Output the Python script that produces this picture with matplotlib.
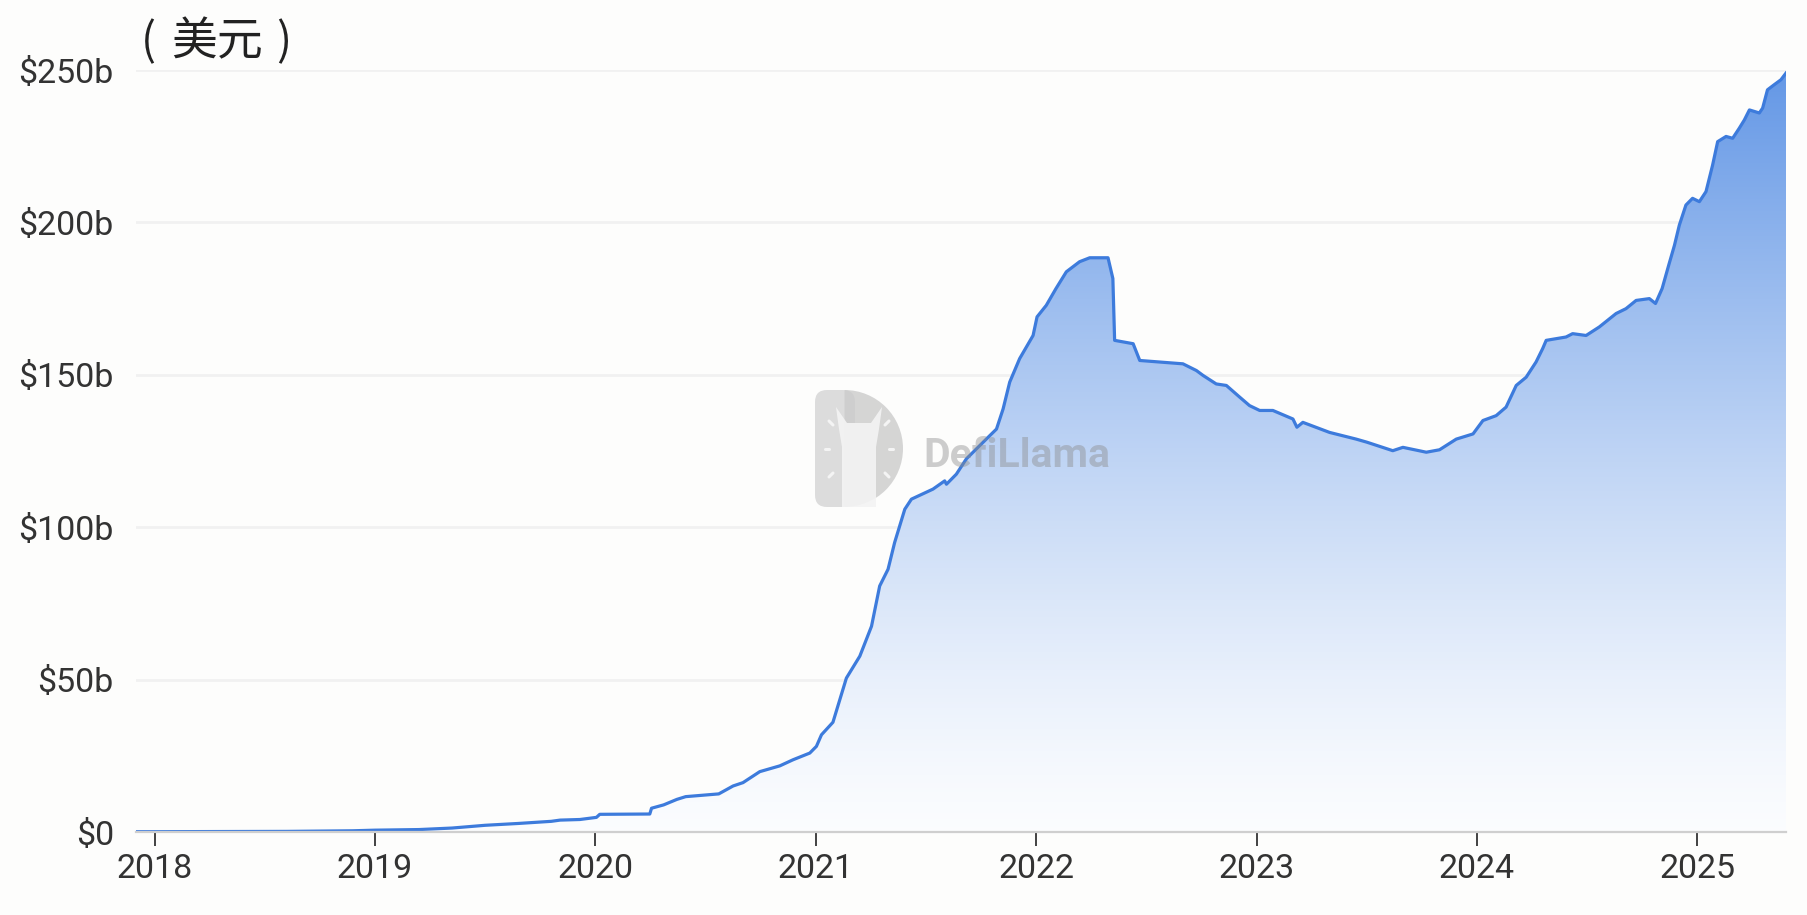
import numpy as np
import matplotlib
matplotlib.use("Agg")
import matplotlib.pyplot as plt
import matplotlib.font_manager as fm
from matplotlib.patches import Wedge, FancyBboxPatch, Polygon

# ---------------- data (decimal year, TVL in $b) ----------------
years = [2017.916, 2018.0, 2018.3, 2018.6, 2018.9, 2019.0, 2019.2, 2019.35, 2019.5,
         2019.65, 2019.8, 2019.84, 2019.93, 2020.005, 2020.02, 2020.247, 2020.255,
         2020.31, 2020.37, 2020.41, 2020.56, 2020.625, 2020.67, 2020.746, 2020.837,
         2020.897, 2020.973, 2021.003, 2021.026, 2021.078, 2021.139, 2021.2, 2021.253,
         2021.29, 2021.328, 2021.358, 2021.404, 2021.434, 2021.532, 2021.585, 2021.593,
         2021.638, 2021.683, 2021.789, 2021.82, 2021.85, 2021.88, 2021.925, 2021.986,
         2022.004, 2022.046, 2022.09, 2022.137, 2022.197, 2022.243, 2022.326, 2022.348,
         2022.356, 2022.44, 2022.47, 2022.666, 2022.727, 2022.757, 2022.817, 2022.863,
         2022.923, 2022.968, 2023.014, 2023.074, 2023.165, 2023.183, 2023.21, 2023.331,
         2023.452, 2023.5, 2023.618, 2023.664, 2023.77, 2023.83, 2023.906, 2023.982,
         2024.027, 2024.087, 2024.132, 2024.178, 2024.223, 2024.268, 2024.298, 2024.314,
         2024.404, 2024.434, 2024.495, 2024.555, 2024.631, 2024.676, 2024.722, 2024.782,
         2024.81, 2024.84, 2024.87, 2024.896, 2024.918, 2024.948, 2024.978, 2025.009,
         2025.039, 2025.069, 2025.092, 2025.13, 2025.16, 2025.19, 2025.213, 2025.236,
         2025.281, 2025.296, 2025.318, 2025.349, 2025.379, 2025.402]
tvl = [0.1, 0.1, 0.15, 0.2, 0.4, 0.6, 0.8, 1.3, 2.2,
       2.8, 3.5, 3.9, 4.1, 4.8, 5.8, 5.9, 7.8,
       8.9, 10.7, 11.6, 12.5, 15.1, 16.2, 19.8, 21.7,
       23.7, 25.9, 28.1, 31.9, 36.0, 50.5, 57.7, 67.5,
       80.7, 86.2, 95.0, 105.9, 109.2, 112.5, 115.2, 114.1,
       117.4, 122.4, 130.0, 132.2, 138.8, 147.6, 155.3, 162.9,
       169.0, 172.8, 178.3, 183.8, 187.1, 188.4, 188.4, 181.6,
       161.3, 160.2, 154.7, 153.6, 151.4, 149.8, 147.0, 146.5,
       142.7, 139.9, 138.3, 138.3, 135.5, 132.8, 134.4, 131.1,
       128.9, 127.9, 125.1, 126.2, 124.6, 125.4, 128.9, 130.6,
       135.0, 136.6, 139.4, 146.5, 149.2, 154.2, 158.6, 161.3,
       162.4, 163.5, 162.9, 165.7, 170.1, 171.7, 174.4, 175.0,
       173.4, 178.3, 186.0, 192.5, 199.1, 205.7, 207.9, 206.8,
       210.1, 218.8, 226.5, 228.2, 227.6, 230.9, 233.6, 236.9,
       235.9, 237.5, 243.5, 245.2, 246.8, 249.0]

x_ticks = [2018, 2019, 2020, 2021, 2022, 2023, 2024, 2025]
x_tick_labels = ["2018", "2019", "2020", "2021", "2022", "2023", "2024", "2025"]
y_ticks = [0, 50, 100, 150, 200, 250]
y_tick_labels = ["\\$0", "\\$50b", "\\$100b", "\\$150b", "\\$200b", "\\$250b"]
unit_open, unit_text, unit_close = "(", "美元", ")"
watermark = "DefiLlama"

# ---------------- fonts ----------------
names = {f.name for f in fm.fontManager.ttflist}
tick_font = "Liberation Sans Narrow" if "Liberation Sans Narrow" in names else "Roboto"
cjk = ["Noto Sans CJK SC", "DejaVu Sans"]

BG = "#fdfdfc"
LINE = "#3d7bdc"
BLUE = np.array([63, 127, 224]) / 255.0

fig = plt.figure(figsize=(18.07, 9.15), dpi=100, facecolor=BG)
ax = fig.add_axes([136 / 1807, 1 - 832 / 915, 1650 / 1807, 762 / 915])
ax.set_facecolor(BG)

x0, x1 = years[0], years[-1]
ax.set_xlim(x0, x1)
ax.set_ylim(0, 250)

# gridlines
for t in y_ticks[1:]:
    ax.axhline(t, color="#f1f1f1", lw=2.0, zorder=0)

# gradient fill clipped to the area under the curve
poly = ax.fill_between(years, tvl, 0, facecolor="none", edgecolor="none", zorder=1)
n = 400
v = np.linspace(0, 250, n)
alpha = 0.02 + 0.68 * (v / 223.0) ** 1.3
alpha = np.clip(alpha, 0, 1)
rgba = np.zeros((n, 1, 4))
rgba[:, 0, :3] = 1 - alpha[:, None] * (1 - BLUE[None, :])
rgba[:, 0, 3] = 1.0
im = ax.imshow(rgba, extent=[x0, x1, 0, 250], origin="lower", aspect="auto",
               interpolation="bilinear", zorder=1)
im.set_clip_path(poly.get_paths()[0], transform=ax.transData)

# watermark text
fig.text(923 / 1807, 1 - 467 / 915, watermark, fontsize=29.5, fontweight="bold",
         family="Roboto", color="#8a8a8a", alpha=0.42, ha="left", va="baseline", zorder=2)

# line
ax.plot(years, tvl, color=LINE, lw=2.3, zorder=3, solid_joinstyle="round")

# axes styling
for s in ["top", "right", "left"]:
    ax.spines[s].set_visible(False)
ax.spines["bottom"].set_color("#cfcfcf")
ax.spines["bottom"].set_linewidth(1.6)
ax.spines["bottom"].set_zorder(4)

ax.set_xticks(x_ticks)
ax.set_xticklabels(x_tick_labels)
ax.set_yticks(y_ticks)
ax.set_yticklabels(y_tick_labels)
ax.tick_params(axis="x", length=10, width=1.3, color="#333333", pad=5,
               labelsize=24.5, labelcolor="#333333")
ax.tick_params(axis="y", length=0, pad=16, labelsize=24.5, labelcolor="#333333")
for lab in ax.get_xticklabels() + ax.get_yticklabels():
    lab.set_family(tick_font)

# unit label
yc = 1 - 42 / 915
fig.text(148 / 1807, yc, unit_open, fontsize=32, family=cjk, color="#222222",
         ha="center", va="center")
fig.text(171 / 1807, yc, unit_text, fontsize=33, family=cjk, color="#222222",
         ha="left", va="center")
fig.text(284 / 1807, yc, unit_close, fontsize=32, family=cjk, color="#222222",
         ha="center", va="center")

# watermark logo (decoration)
lax = fig.add_axes([815 / 1807, 1 - 507 / 915, 88 / 1807, 117 / 915])
lax.set_xlim(0, 88)
lax.set_ylim(0, 117)
lax.axis("off")
lax.patch.set_alpha(0)
lax.add_patch(FancyBboxPatch((0, 0), 40, 117, boxstyle="round,pad=0,rounding_size=12",
                             facecolor="#d4d4d4", edgecolor="none", alpha=0.8))
lax.add_patch(Wedge((29.5, 58.5), 58.5, -90, 90, facecolor="#cbcbcb",
                    edgecolor="none", alpha=0.8))
lax.add_patch(Polygon([(27, 0), (27, 60), (24, 78), (21, 100), (32, 84), (56, 84),
                       (67, 100), (64, 78), (61, 60), (61, 0)], closed=True,
                      facecolor="#f4f4f4", edgecolor="none", alpha=0.9))
for (a, b), (c, d) in [((10, 58), (14, 58)), ((74, 58), (78, 58)), ((14, 86), (18, 82)),
                       ((70, 82), (74, 86)), ((14, 30), (18, 34)), ((70, 34), (74, 30))]:
    lax.plot([a, c], [b, d], color="#f4f4f4", lw=2.2, solid_capstyle="round")

fig.savefig("out.png", dpi=100, facecolor=BG)
